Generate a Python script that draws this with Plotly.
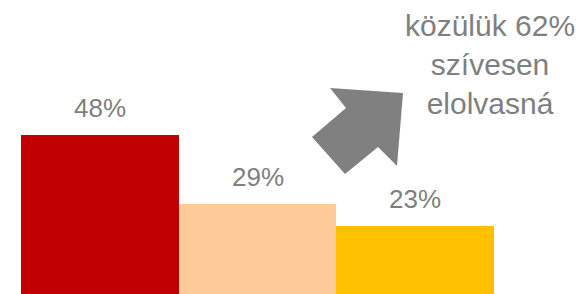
import plotly.graph_objects as go

categories = ["A", "B", "C"]
values = [48, 29, 23]
labels = ["48%", "29%", "23%"]
bar_colors = ["#C00000", "#FFCA99", "#FFC000"]
note_text = "közülük 62%<br>szívesen<br>elolvasná"

# page body has an 8px default margin; compensate
OFF = 8
W, H = 586 - OFF, 294 - OFF
ML = 21 - OFF
PW = W - ML

# arrow outline in page pixel coordinates (decoration)
arrow_px = [(330, 88), (403, 93), (397, 166), (378, 147), (345, 174), (312, 137), (346, 108)]


def to_paper(px, py):
    return (px - OFF - ML) / PW, 1 - (py - OFF) / H


path = "M " + " L ".join(f"{to_paper(x, y)[0]:.4f},{to_paper(x, y)[1]:.4f}" for x, y in arrow_px) + " Z"

fig = go.Figure()
fig.add_trace(go.Bar(
    x=categories, y=values,
    marker=dict(color=bar_colors, line=dict(width=0)),
    width=1.0,
    hoverinfo="skip",
))

for c, v, t in zip(categories, values, labels):
    fig.add_annotation(x=c, y=v, text=t, showarrow=False, yanchor="bottom",
                       yshift=10, font=dict(family="Liberation Sans, Arial", size=26, color="#7F7F7F"))

nx, ny = to_paper(490, 7)
fig.add_annotation(xref="paper", yref="paper", x=nx, y=ny,
                   text=note_text, showarrow=False, xanchor="center", yanchor="top", align="center",
                   font=dict(family="Liberation Sans, Arial", size=30, color="#7F7F7F"))

fig.add_shape(type="path", path=path, xref="paper", yref="paper",
              fillcolor="#808080", line=dict(width=0), layer="above")

fig.update_layout(
    width=W, height=H,
    margin=dict(l=ML, r=0, t=0, b=0),
    paper_bgcolor="white", plot_bgcolor="white",
    bargap=0, showlegend=False,
    xaxis=dict(type="category", range=[-0.5, -0.5 + PW / 157.7], showgrid=False, zeroline=False,
               showticklabels=False, showline=False, ticks=""),
    yaxis=dict(range=[4.43, 82.68], showgrid=False, zeroline=False, showticklabels=False,
               showline=False, ticks=""),
)

fig.write_html("out.html")
